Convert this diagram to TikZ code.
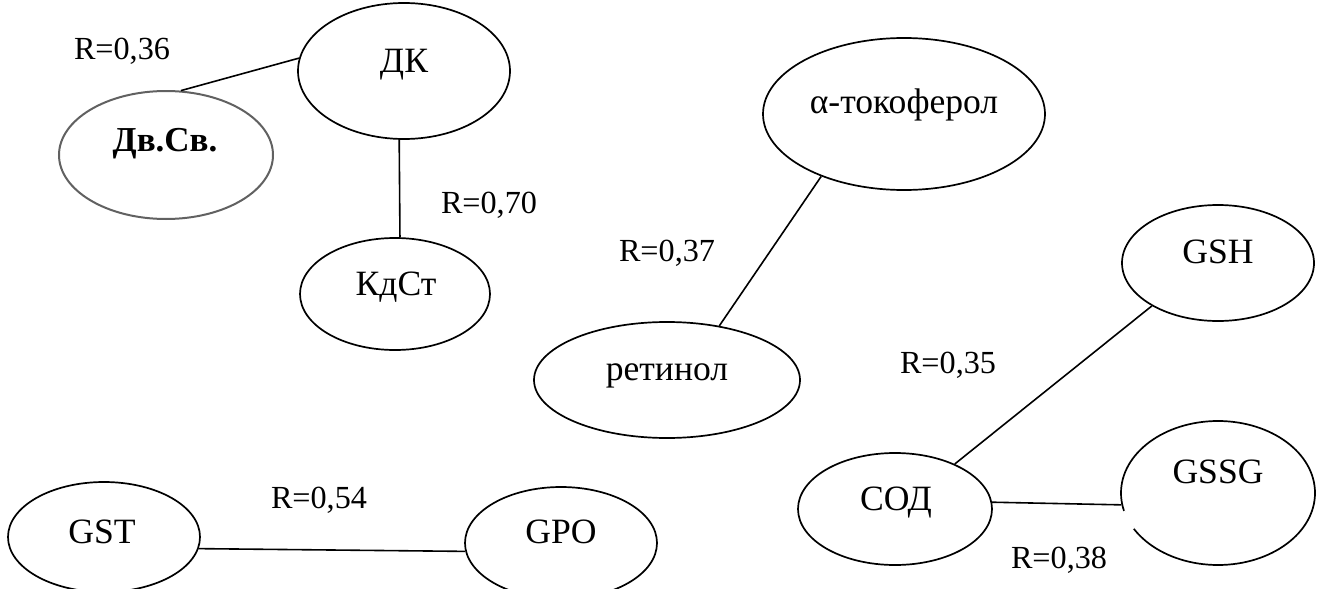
\documentclass[tikz,border=0pt]{standalone}
\usepackage{fontspec}
\setmainfont{Liberation Serif}
\usetikzlibrary{shapes.geometric}
\tikzset{
  ell/.style={ellipse, draw, inner sep=0pt, line width=0.85pt},
  nlbl/.style={anchor=base, inner sep=0pt, font=\fontsize{17.8}{20}\selectfont},
  rlbl/.style={anchor=base, inner sep=0pt, font=\fontsize{16.1}{18}\selectfont},
  conn/.style={line width=0.8pt},
}
\begin{document}
\begin{tikzpicture}[x=0.5pt,y=-0.5pt]
\useasboundingbox (0,0) rectangle (1323,589);
% ellipses
\node[ell, minimum width=106pt, minimum height=68pt] (dk) at (404,71) {};
\node[ell, draw=black!62, line width=1pt, minimum width=107pt, minimum height=64pt] (dvsv) at (166,155) {};
\node[ell, minimum width=95pt, minimum height=56pt] (kdst) at (395,294) {};
\node[ell, minimum width=141pt, minimum height=76pt] (alpha) at (904,114) {};
\node[ell, minimum width=133pt, minimum height=58pt] (ret) at (667,380) {};
\node[ell, minimum width=96pt, minimum height=58pt] (gsh) at (1218,263) {};
\node[ell, minimum width=97pt, minimum height=56pt] (sod) at (895,509) {};
\node[ell, minimum width=97pt, minimum height=72pt] (gssg) at (1218,493) {};
\node[ell, minimum width=96pt, minimum height=55pt] (gst) at (104,537) {};
\node[ell, minimum width=96pt, minimum height=56pt] (gpo) at (561,543) {};
% small gap in the GSSG outline
\draw[white, line width=2pt] (gssg.191) -- (gssg.203);
% labels in ellipses
\node[nlbl] (dkt) at (404,72) {ДК};
\node[nlbl, font=\fontsize{17.5}{20}\selectfont\bfseries] (dvsvt) at (165,151) {Дв.Св.};
\node[nlbl] (kdstt) at (396,295) {КдСт};
\node[nlbl] (alphat) at (904,113) {α-токоферол};
\node[nlbl] (rett) at (667,380) {ретинол};
\node[nlbl] (gsht) at (1218,263) {GSH};
\node[nlbl] (sodt) at (896,510) {СОД};
\node[nlbl] (gssgt) at (1218,483) {GSSG};
\node[nlbl] (gstt) at (102,543) {GST};
\node[nlbl] (gpot) at (561,543) {GPO};
% connectors
\draw[conn] (dvsv.77) -- (dk.173);
\draw[conn] (dk.266.6) -- (kdst.85);
\draw[conn] (alpha.217) -- (ret.46);
\draw[conn] (gsh.213.7) -- (sod.37.7);
\draw[conn] (sod.4.7) -- (gssg.187);
\draw[conn] (gst.353.6) -- (gpo.185.4);
% coefficients
\node[rlbl] (r36) at (122,59) {R=0,36};
\node[rlbl] (r70) at (489,213) {R=0,70};
\node[rlbl] (r37) at (667,261) {R=0,37};
\node[rlbl] (r35) at (948,373) {R=0,35};
\node[rlbl] (r38) at (1059,568) {R=0,38};
\node[rlbl] (r54) at (319,508) {R=0,54};
\end{tikzpicture}
\end{document}
